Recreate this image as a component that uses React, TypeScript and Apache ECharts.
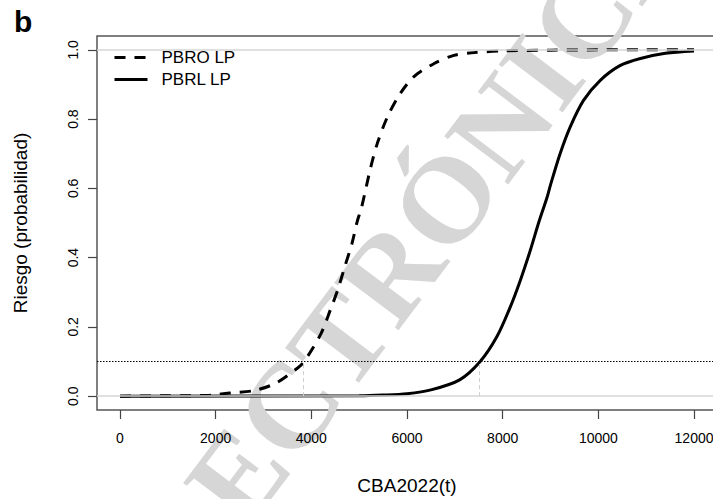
import React, { useEffect, useRef } from "react";
import * as echarts from "echarts";

// PBRO LP (dashed curve)
const pbroX = [0, 1000, 1800, 2000, 2300, 2800, 3250, 3700, 3850, 4200, 4400, 4550, 4700, 4850, 4960, 5050, 5240, 5380, 5590, 5860, 6140, 6560, 6980, 7400, 8000, 9000, 10000, 11000, 12000];
const pbroY = [0, 0.001, 0.002, 0.004, 0.009, 0.016, 0.037, 0.08, 0.1, 0.18, 0.25, 0.306, 0.374, 0.441, 0.505, 0.545, 0.66, 0.73, 0.806, 0.874, 0.922, 0.96, 0.984, 0.992, 0.997, 0.999, 1, 1, 1];
// PBRL LP (solid curve)
const pbrlX = [0, 5000, 5500, 6000, 6500, 7100, 7530, 7880, 8160, 8370, 8580, 8750, 8930, 9000, 9200, 9410, 9690, 10040, 10460, 10880, 11400, 12000];
const pbrlY = [0, 0.001, 0.003, 0.007, 0.018, 0.047, 0.1, 0.172, 0.258, 0.335, 0.422, 0.5, 0.575, 0.61, 0.7, 0.777, 0.854, 0.912, 0.955, 0.975, 0.99, 0.997];

const xTicks = [0, 2000, 4000, 6000, 8000, 10000, 12000];
const yTicks = [0, 0.2, 0.4, 0.6, 0.8, 1.0];
const threshold = 0.1;
const crossX = [3830, 7520];
const refLevels = [0, 1];
const seriesNames = ["PBRO LP", "PBRL LP"];
const xTitle = "CBA2022(t)";
const yTitle = "Riesgo (probabilidad)";
const panelLabel = "b";
const watermark = "ELECTRÓNICA";

const SANS = "'Liberation Sans', Arial, Helvetica, sans-serif";
const DASH = [11, 9];

export default function App() {
  const ref = useRef<HTMLDivElement>(null);
  useEffect(() => {
    document.body.style.margin = "0";
    const chart = echarts.init(ref.current as HTMLDivElement, null, { renderer: "svg" });
    const zip = (xs: number[], ys: number[]) => xs.map((x, i) => [x, ys[i]]);
    const option: any = {
      animation: false,
      backgroundColor: "#fff",
      textStyle: { fontFamily: SANS },
      grid: {
        left: 97,
        top: 36,
        width: 620,
        height: 374,
        show: true,
        borderColor: "#555",
        borderWidth: 1.5,
        backgroundColor: "transparent",
        containLabel: false,
        outerBoundsMode: "none",
      },
      graphic: [
        {
          type: "text",
          x: 388,
          y: 275,
          rotation: (53 * Math.PI) / 180,
          z: 0,
          silent: true,
          style: {
            text: watermark,
            font: "bold 122px 'Liberation Serif', 'Times New Roman', serif",
            fill: "#d6d6d6",
            align: "center",
            verticalAlign: "middle",
          },
        },
        {
          type: "text",
          left: 14,
          top: 6,
          z: 10,
          style: {
            text: panelLabel,
            font: "bold 30px " + SANS,
            fill: "#000",
          },
        },
      ],
      legend: {
        orient: "vertical",
        left: 113,
        top: 49,
        padding: 0,
        itemWidth: 33,
        itemHeight: 14,
        itemGap: 5,
        itemStyle: { opacity: 0, borderWidth: 0 },
        data: [
          { name: seriesNames[0], lineStyle: { type: DASH, width: 3, color: "#000" } },
          { name: seriesNames[1], lineStyle: { type: "solid", width: 3, color: "#000" } },
        ],
        textStyle: { fontSize: 17, color: "#000", fontFamily: SANS, padding: [0, 0, 0, 9] },
      },
      xAxis: {
        type: "value",
        min: -480,
        max: 12480,
        name: xTitle,
        nameLocation: "middle",
        nameGap: 66,
        nameTextStyle: { fontSize: 19, color: "#000", fontFamily: SANS },
        axisLine: { show: false, onZero: false },
        splitLine: { show: false },
        axisTick: { show: true, customValues: xTicks, length: 9, lineStyle: { color: "#444", width: 1.2 } },
        axisLabel: {
          customValues: xTicks,
          fontSize: 14,
          color: "#000",
          margin: 21,
          fontFamily: SANS,
          formatter: (v: number) => String(v),
        },
      },
      yAxis: {
        type: "value",
        min: -0.04,
        max: 1.04,
        name: yTitle,
        nameLocation: "middle",
        nameGap: 67,
        nameTextStyle: { fontSize: 19, color: "#000", fontFamily: SANS },
        axisLine: { show: false, onZero: false },
        splitLine: { show: false },
        axisTick: { show: true, customValues: yTicks, length: 9, lineStyle: { color: "#444", width: 1.2 } },
        axisLabel: {
          customValues: yTicks,
          rotate: 90,
          fontSize: 14,
          color: "#000",
          margin: 17,
          fontFamily: SANS,
          formatter: (v: number) => v.toFixed(1),
        },
      },
      series: [
        {
          type: "line",
          name: "ref",
          data: [],
          z: 1,
          silent: true,
          markLine: {
            silent: true,
            symbol: "none",
            label: { show: false },
            data: [
              ...refLevels.map((v) => ({ yAxis: v, lineStyle: { color: "#d6d6d6", width: 1.5, type: "solid" } })),
              { yAxis: threshold, lineStyle: { color: "#000", width: 1, type: [1.5, 1.5] } },
              ...crossX.map((x) => [
                { coord: [x, 0], lineStyle: { color: "#cfcfcf", width: 1, type: [4, 3] } },
                { coord: [x, threshold] },
              ]),
            ],
          },
        },
        {
          type: "line",
          name: seriesNames[0],
          data: zip(pbroX, pbroY),
          symbol: "none",
          showSymbol: false,
          smooth: 0.3,
          z: 3,
          lineStyle: { color: "#000", width: 3, type: DASH },
          itemStyle: { color: "#000" },
        },
        {
          type: "line",
          name: seriesNames[1],
          data: zip(pbrlX, pbrlY),
          symbol: "none",
          showSymbol: false,
          smooth: 0.3,
          z: 3,
          lineStyle: { color: "#000", width: 3, type: "solid" },
          itemStyle: { color: "#000" },
        },
      ],
    };
    chart.setOption(option);
    return () => chart.dispose();
  }, []);
  return <div ref={ref} style={{ width: 713, height: 499 }} />;
}
